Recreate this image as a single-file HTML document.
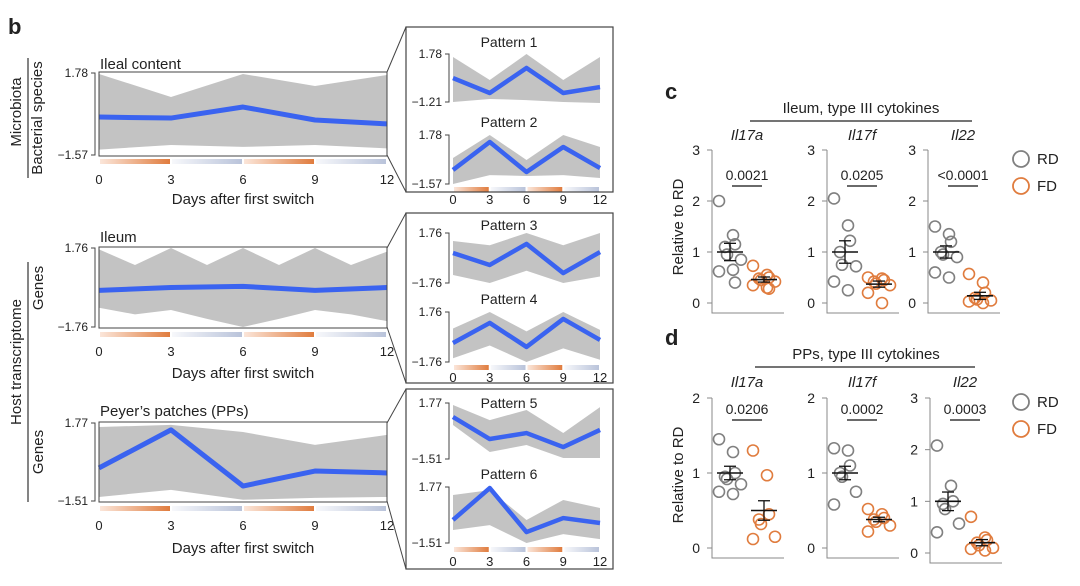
<!DOCTYPE html>
<html><head><meta charset="utf-8"><style>
body{margin:0;background:#fff;}
svg text{font-family:"Liberation Sans",sans-serif;fill:#222;}
</style></head><body>
<svg id="fig" width="1080" height="581" viewBox="0 0 1080 581" xmlns="http://www.w3.org/2000/svg">
<defs>
<linearGradient id="gOr" x1="0" x2="1"><stop offset="0" stop-color="#fbe6da"/><stop offset="1" stop-color="#e07c3e"/></linearGradient>
<linearGradient id="gBl" x1="0" x2="1"><stop offset="0" stop-color="#f7f8fb"/><stop offset="1" stop-color="#b9c3da"/></linearGradient>
</defs>
<g id="root"></g>
</svg>
<script>
// ---------- data: panel b ----------
const days = [0,3,6,9,12];
const ilealBlue = [-0.02,-0.06,0.39,-0.14,-0.30];
const ilealUpper = [1.74,0.80,1.74,1.25,1.70];
const ilealLower = [-1.35,-1.16,-1.24,-1.16,-1.30];
const ileumDays = [0,1.5,3,4.5,6,7.5,9,10.5,12];
const ileumUpper = [1.70,1.0,1.76,1.0,1.76,1.0,1.76,1.0,1.60];
const ileumLower = [-0.9,-1.2,-1.0,-1.4,-1.76,-1.4,-1.0,-1.2,-1.5];
const ileumBlue = [-0.13,0.00,0.05,-0.13,0.00];
const ppBlue = [-0.12,1.48,-0.88,-0.25,-0.33];
const ppUpper = [1.60,1.69,1.39,0.85,1.27];
const ppLower = [-1.34,-1.04,-1.46,-1.38,-1.34];
const p1Blue=[0.28,-0.65,0.91,-0.65,-0.28], p1Up=[1.59,0.16,1.78,0.16,1.59], p1Lo=[-1.21,-1.02,-1.09,-1.21,-1.27];
const p2Blue=[-0.61,1.30,-0.75,0.96,-0.48], p2Up=[0.21,1.78,0.07,1.78,0.96], p2Lo=[-1.57,-0.96,-1.02,-0.96,-1.16];
const p3Blue=[0.35,-0.49,0.99,-1.06,0.42], p3Up=[1.2,0.9,1.76,0.9,1.76], p3Lo=[-1.2,-1.76,-0.9,-1.76,-1.3];
const p4Blue=[-0.42,0.99,-0.70,1.27,-0.21], p4Up=[0.6,1.76,0.4,1.76,0.5], p4Lo=[-1.5,-0.6,-1.76,-0.8,-1.6];
const p5Blue=[0.95,-0.34,0.01,-0.81,0.19], p5Up=[1.65,0.77,1.36,0.01,1.53], p5Lo=[0.48,-1.10,-0.69,-1.45,-1.45];
const p6Blue=[-0.16,1.71,-0.87,-0.05,-0.34], p6Up=[1.30,1.59,-0.16,1.01,0.54], p6Lo=[-0.75,-0.46,-1.51,-0.99,-1.28];
// ---------- data: panels c, d ----------
const genes = ["Il17a","Il17f","Il22"];
const cRD = [[2.0,1.33,1.15,1.1,0.95,0.85,0.62,0.65,0.4],[2.05,1.52,1.22,1.0,0.75,0.72,0.42,0.25],[1.5,1.35,1.2,1.0,0.95,0.9,0.6,0.5]];
const cFD = [[0.73,0.55,0.5,0.48,0.45,0.42,0.35,0.3,0.28],[0.5,0.48,0.45,0.42,0.38,0.35,0.2,0.0],[0.57,0.4,0.2,0.1,0.07,0.05,0.03,0.0]];
const cMean = [[1.0,0.46],[1.0,0.37],[1.0,0.14]];
const cSem = [[0.17,0.05],[0.22,0.06],[0.12,0.07]];
const cP = ["0.0021","0.0205","<0.0001"];
const cMax = [3,3,3];
const dRD = [[1.45,1.28,1.0,0.95,0.92,0.85,0.75,0.72],[1.33,1.3,1.1,1.0,0.95,0.75,0.58],[2.08,1.3,1.0,0.95,0.85,0.57,0.4]];
const dFD = [[1.3,0.97,0.45,0.38,0.32,0.15,0.12],[0.52,0.45,0.4,0.38,0.35,0.3,0.22],[0.7,0.3,0.25,0.2,0.15,0.1,0.08,0.05]];
const dMean = [[1.0,0.5],[1.0,0.38],[1.0,0.2]];
const dSem = [[0.09,0.13],[0.09,0.03],[0.18,0.06]];
const dP = ["0.0206","0.0002","0.0003"];
const dMax = [2,2,3];

const NS="http://www.w3.org/2000/svg";
const root=document.getElementById('root');
function el(tag,attrs,parent,text){const e=document.createElementNS(NS,tag);for(const k in attrs)e.setAttribute(k,attrs[k]);if(text!==undefined)e.textContent=text;(parent||root).appendChild(e);return e;}

// ---- line panel ----
function linePanel(o){
  const g=el('g',{});
  
  
  const xs=d=>o.x0+(o.x1-o.x0)*d/12;
  const ys=v=>o.yb-(v-o.lo)/(o.hi-o.lo)*(o.yb-o.yt);
  const ud=o.envDays||days;
  let pts=ud.map((d,i)=>xs(d)+','+ys(o.up[i]));
  pts=pts.concat(ud.slice().reverse().map((d,i)=>xs(d)+','+ys(o.low[ud.length-1-i])));
  const env=el('polygon',{points:pts.join(' '),fill:'#c3c3c3'},g);
  
  
  const bl=el('polyline',{points:days.map((d,i)=>xs(d)+','+ys(o.blue[i])).join(' '),fill:'none',stroke:'#3a63f0','stroke-width':o.bw||5,'stroke-linejoin':'round'},g);
  
  
  // y axis bracket
  const ax=o.x0-4;
  el('path',{d:`M${ax-4},${ys(o.hi)}H${ax}V${ys(o.lo)}H${ax-4}`,fill:'none',stroke:'#444','stroke-width':1},g);
  const t1=el('text',{x:ax-7,y:ys(o.hi)+4,'text-anchor':'end','font-size':o.fs||12},g,o.hiL);
  
  const t2=el('text',{x:ax-7,y:ys(o.lo)+4,'text-anchor':'end','font-size':o.fs||12},g,o.loL);
  
  if(o.title){const t=el('text',{x:o.tx,y:o.ty,'text-anchor':o.ta||'start','font-size':o.tfs||14},g,o.title);
    }
  if(o.box) el('rect',{x:o.x0,y:o.yt-1,width:o.x1-o.x0,height:o.yb-o.yt+2,fill:'none',stroke:'#444','stroke-width':1},g);
  if(o.bar!==undefined){
    [[0,3,'url(#gOr)'],[3,6,'url(#gBl)'],[6,9,'url(#gOr)'],[9,12,'url(#gBl)']].forEach(s=>{
      const r=el('rect',{x:xs(s[0])+1,y:o.bar,width:xs(s[1])-xs(s[0])-2,height:5,fill:s[2]},g);
      });
    days.forEach(d=>{const t=el('text',{x:xs(d),y:o.tickY,'text-anchor':'middle','font-size':o.xfs||13},g,String(d));
      });
  }
  if(o.xt){const t=el('text',{x:(o.x0+o.x1)/2,y:o.xt,'text-anchor':'middle','font-size':15},g,'Days after first switch');
    }
}
// main panels
linePanel({name:'ileal-content-panel',x0:99,x1:387,yt:73,yb:155,lo:-1.57,hi:1.78,hiL:'1.78',loL:'\u22121.57',blue:ilealBlue,up:ilealUpper,low:ilealLower,box:1,title:'Ileal content',tx:100,ty:69,tfs:15,bar:159,tickY:184,xt:204});
linePanel({name:'ileum-panel',x0:99,x1:387,yt:248,yb:327,lo:-1.76,hi:1.76,hiL:'1.76',loL:'\u22121.76',blue:ileumBlue,up:ileumUpper,low:ileumLower,envDays:ileumDays,box:1,title:'Ileum',tx:100,ty:242,tfs:15,bar:332,tickY:356,xt:378});
linePanel({name:'peyers-patches-panel',x0:99,x1:387,yt:423,yb:501,lo:-1.51,hi:1.77,hiL:'1.77',loL:'\u22121.51',blue:ppBlue,up:ppUpper,low:ppLower,box:1,title:'Peyer\u2019s patches (PPs)',tx:100,ty:416,tfs:15,bar:506,tickY:530,xt:553});
// pattern panels
const px0=453,px1=600;
linePanel({name:'pattern-1',x0:px0,x1:px1,yt:54,yb:102,lo:-1.21,hi:1.78,hiL:'1.78',loL:'\u22121.21',blue:p1Blue,up:p1Up,low:p1Lo,bw:4.5,title:'Pattern 1',tx:509,ty:47,ta:'middle',tfs:14});
linePanel({name:'pattern-2',x0:px0,x1:px1,yt:135,yb:184,lo:-1.57,hi:1.78,hiL:'1.78',loL:'\u22121.57',blue:p2Blue,up:p2Up,low:p2Lo,bw:4.5,title:'Pattern 2',tx:509,ty:127,ta:'middle',tfs:14,bar:187,tickY:204});
linePanel({name:'pattern-3',x0:px0,x1:px1,yt:233,yb:283,lo:-1.76,hi:1.76,hiL:'1.76',loL:'\u22121.76',blue:p3Blue,up:p3Up,low:p3Lo,bw:4.5,title:'Pattern 3',tx:509,ty:230,ta:'middle',tfs:14});
linePanel({name:'pattern-4',x0:px0,x1:px1,yt:312,yb:362,lo:-1.76,hi:1.76,hiL:'1.76',loL:'\u22121.76',blue:p4Blue,up:p4Up,low:p4Lo,bw:4.5,title:'Pattern 4',tx:509,ty:304,ta:'middle',tfs:14,bar:365,tickY:382});
linePanel({name:'pattern-5',x0:px0,x1:px1,yt:403,yb:459,lo:-1.51,hi:1.77,hiL:'1.77',loL:'\u22121.51',blue:p5Blue,up:p5Up,low:p5Lo,bw:4.5,title:'Pattern 5',tx:509,ty:408,ta:'middle',tfs:14});
linePanel({name:'pattern-6',x0:px0,x1:px1,yt:487,yb:543,lo:-1.51,hi:1.77,hiL:'1.77',loL:'\u22121.51',blue:p6Blue,up:p6Up,low:p6Lo,bw:4.5,title:'Pattern 6',tx:509,ty:479,ta:'middle',tfs:14,bar:547,tickY:566});
// pattern boxes and connectors
[[27,192,72,155],[213,383,248,327],[389,569,423,501]].forEach(b=>{
  const r=el('rect',{x:406,y:b[0],width:207,height:b[1]-b[0],fill:'none',stroke:'#444','stroke-width':1.2});
  
  el('line',{x1:387,y1:b[2],x2:406,y2:b[0],stroke:'#444','stroke-width':1});
  el('line',{x1:387,y1:b[3],x2:406,y2:b[1],stroke:'#444','stroke-width':1});
});
// panel letter + side labels
function txt(name,attrs,s){const t=el('text',attrs,root,s);return t;}
txt('panel-label-b',{x:8,y:34,'font-size':22,'font-weight':'bold'},'b');
txt('microbiota-label',{transform:'translate(21,112) rotate(-90)','text-anchor':'middle','font-size':15},'Microbiota');
el('line',{x1:28,y1:58,x2:28,y2:178,stroke:'#333','stroke-width':1.2});
txt('bacterial-species-label',{transform:'translate(42,118) rotate(-90)','text-anchor':'middle','font-size':15},'Bacterial species');
txt('host-transcriptome-label',{transform:'translate(21,362) rotate(-90)','text-anchor':'middle','font-size':15},'Host transcriptome');
el('line',{x1:28,y1:262,x2:28,y2:502,stroke:'#333','stroke-width':1.2});
txt('genes-label-ileum',{transform:'translate(43,288) rotate(-90)','text-anchor':'middle','font-size':15},'Genes');
txt('genes-label-pps',{transform:'translate(43,452) rotate(-90)','text-anchor':'middle','font-size':15},'Genes');

// ---- scatter panels ----
function scatterPanel(o){
  const g=el('g',{});
  
  
  txt(o.name+'-letter',{x:665,y:o.ly,'font-size':22,'font-weight':'bold'},o.letter);
  txt(o.name+'-title',{x:o.tcx,y:o.ty,'text-anchor':'middle','font-size':15},o.title);
  el('line',{x1:o.tl0,x2:o.tl1,y1:o.ty+8,y2:o.ty+8,stroke:'#222','stroke-width':1.2},g);
  txt(o.name+'-y-title',{transform:`translate(683,${o.ycy}) rotate(-90)`,'text-anchor':'middle','font-size':15},'Relative to RD');
  o.axX.forEach((ax,k)=>{
    const y0=o.y0[k],ym=o.ymax[k],mx=o.max[k];
    const ys=v=>y0-(v/mx)*(y0-ym);
    txt('gene-title-'+genes[k],{x:ax+35,y:o.gy,'text-anchor':'middle','font-size':15,'font-style':'italic'},genes[k]);
    el('path',{d:`M${ax},${ym}V${y0+10}H${ax+72}`,fill:'none',stroke:'#888','stroke-width':1},g);
    for(let t=0;t<=mx;t++){
      el('line',{x1:ax-5,x2:ax,y1:ys(t),y2:ys(t),stroke:'#888','stroke-width':1},g);
      txt('y-tick-label',{x:ax-12,y:ys(t)+5,'text-anchor':'end','font-size':14},String(t));
    }
    [[o.rd[k],ax+18,'#808080',0],[o.fd[k],ax+52,'#e07c3e',1]].forEach(s=>{
      s[0].forEach((v,i)=>{
        const jit=((i%3)-1)*8+((i%2)?3:-3);
        const c=el('circle',{cx:s[1]+jit,cy:ys(v),r:5.5,fill:'none',stroke:s[2],'stroke-width':1.6},g);
        
        
      });
      const m=o.mean[k][s[3]],se=o.sem[k][s[3]];
      el('line',{x1:s[1]-13,x2:s[1]+13,y1:ys(m),y2:ys(m),stroke:'#111','stroke-width':1.6},g);
      el('line',{x1:s[1],x2:s[1],y1:ys(m+se),y2:ys(m-se),stroke:'#111','stroke-width':1.3},g);
      el('line',{x1:s[1]-6,x2:s[1]+6,y1:ys(m+se),y2:ys(m+se),stroke:'#111','stroke-width':1.3},g);
      el('line',{x1:s[1]-6,x2:s[1]+6,y1:ys(m-se),y2:ys(m-se),stroke:'#111','stroke-width':1.3},g);
    });
    txt('p-value',{x:ax+35,y:o.py,'text-anchor':'middle','font-size':14},o.p[k]);
    el('line',{x1:ax+20,x2:ax+50,y1:o.py+6,y2:o.py+6,stroke:'#111','stroke-width':1.3},g);
  });
  [['RD','#808080',o.legY],['FD','#e07c3e',o.legY+27]].forEach(l=>{
    const c=el('circle',{cx:1021,cy:l[2],r:8,fill:'none',stroke:l[1],'stroke-width':1.8});
    
    txt('legend-label-'+l[0],{x:1037,y:l[2]+5,'font-size':15},l[0]);
  });
}
scatterPanel({name:'panel-c',letter:'c',ly:99,title:'Ileum, type III cytokines',tcx:861,ty:113,tl0:750,tl1:972,ycy:227,gy:140,axX:[712,827,928],y0:[303,303,303],ymax:[150,150,150],max:cMax,rd:cRD,fd:cFD,mean:cMean,sem:cSem,p:cP,py:180,legY:159});
scatterPanel({name:'panel-d',letter:'d',ly:345,title:'PPs, type III cytokines',tcx:866,ty:359,tl0:755,tl1:975,ycy:475,gy:387,axX:[712,827,930],y0:[548,548,553],ymax:[398,398,398],max:dMax,rd:dRD,fd:dFD,mean:dMean,sem:dSem,p:dP,py:414,legY:402});
</script>
</body></html>
